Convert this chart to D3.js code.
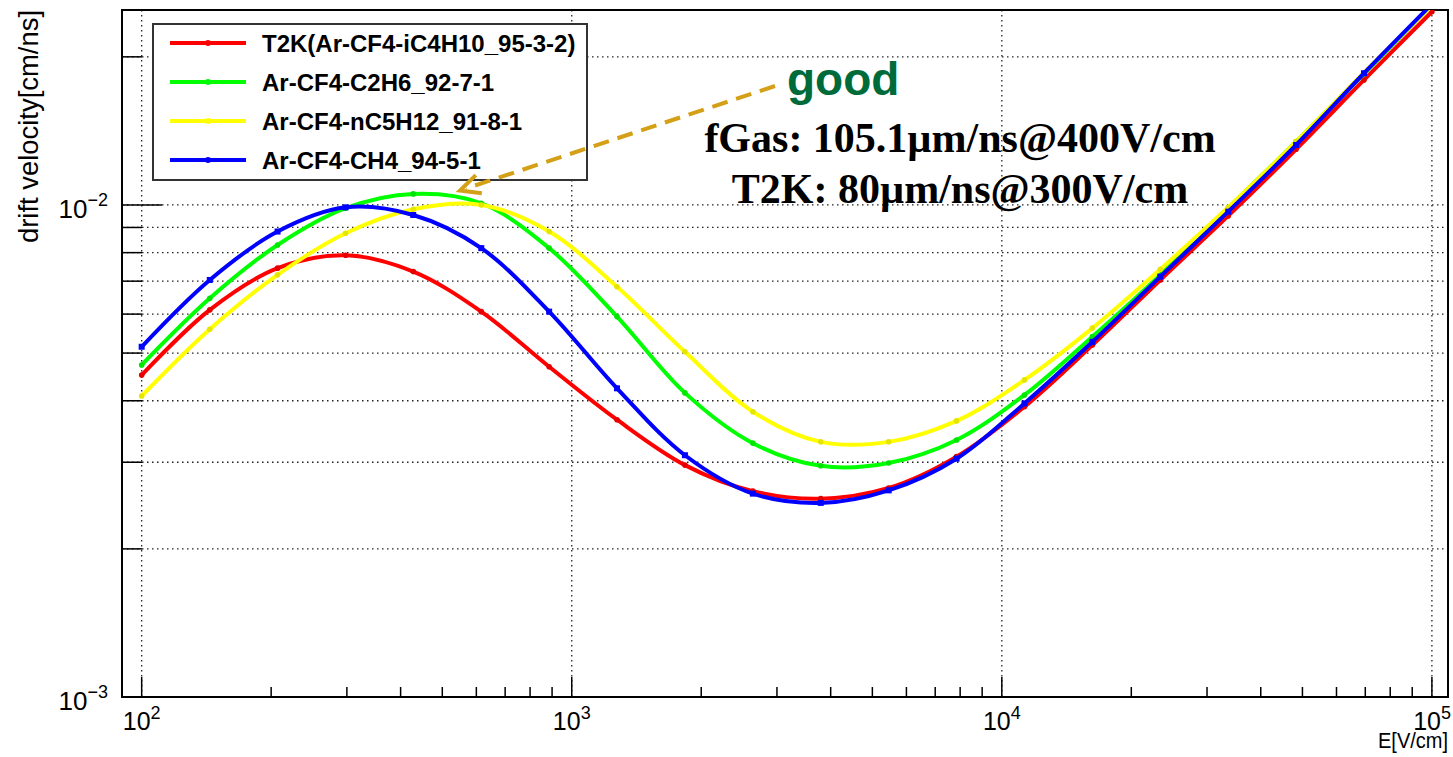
<!DOCTYPE html>
<html>
<head>
  <script src="https://cdnjs.cloudflare.com/ajax/libs/d3/7.8.5/d3.min.js"></script>
  <style>
    body { margin: 0; background: #fff; }
    .curve { fill: none; stroke-width: 4; stroke-linejoin: round; }
    .grid { stroke: #222; stroke-width: 1.3; stroke-dasharray: 1.5,3.5; }
    text { font-family: "Liberation Sans", Arial, sans-serif; }
  </style>
</head>
<body>
  <div id="graph"></div>
  <script>
    // electric field sample points [V/cm]
    const fieldValues = [100, 144, 207, 298, 428, 616, 886, 1274, 1833, 2637, 3793, 5456,
                         7848, 11288, 16238, 23357, 33598, 48329, 69519, 100000];

    // drift velocity [cm/ns]
    const t2kVelocity = [0.00451, 0.00612, 0.00744, 0.00790, 0.00732, 0.00607, 0.00469, 0.00366,
                         0.00296, 0.00262, 0.00253, 0.00266, 0.00308, 0.00389, 0.00519, 0.00704,
                         0.00950, 0.01298, 0.01795, 0.0247];
    const c2h6Velocity = [0.00473, 0.00646, 0.00829, 0.00985, 0.01053, 0.01008, 0.00817, 0.00593,
                          0.00415, 0.00328, 0.00295, 0.00299, 0.00333, 0.00411, 0.00540, 0.00721,
                          0.00985, 0.01345, 0.01846, 0.0255];
    const nc5h12Velocity = [0.00409, 0.00559, 0.00721, 0.00876, 0.00980, 0.01000, 0.00883, 0.00682,
                            0.00503, 0.00380, 0.00330, 0.00330, 0.00364, 0.00441, 0.00562, 0.00740,
                            0.00989, 0.01345, 0.01857, 0.0254];
    const ch4Velocity = [0.00515, 0.00704, 0.00883, 0.00989, 0.00954, 0.00817, 0.00607, 0.00424,
                         0.00310, 0.00259, 0.00248, 0.00263, 0.00305, 0.00395, 0.00527, 0.00715,
                         0.00969, 0.01324, 0.01852, 0.0256];

    const seriesNames = ["T2K(Ar-CF4-iC4H10_95-3-2)", "Ar-CF4-C2H6_92-7-1",
                         "Ar-CF4-nC5H12_91-8-1", "Ar-CF4-CH4_94-5-1"];
    const seriesColors = ["#ff0000", "#00ff00", "#ffff00", "#0000ff"];
    const seriesValues = [t2kVelocity, c2h6Velocity, nc5h12Velocity, ch4Velocity];

    const xDecades = [2, 3, 4, 5];
    const yDecades = [-3, -2];

    const noteGood = "good";
    const noteLines = ["fGas: 105.1\u00b5m/ns@400V/cm", "T2K: 80\u00b5m/ns@300V/cm"];

    // frame in page pixels
    const frame = {left: 122, right: 1448, top: 10, bottom: 697};

    const svg = d3.select("#graph")
      .append("svg")
        .attr("width", 1453)
        .attr("height", 757);

    const x = d3.scaleLog()
      .domain([90, 109000])
      .range([frame.left, frame.right]);

    const y = d3.scaleLog()
      .domain([0.001, 0.0249])
      .range([frame.bottom, frame.top]);

    svg.append("clipPath").attr("id", "clip")
      .append("rect")
        .attr("x", frame.left).attr("y", frame.top)
        .attr("width", frame.right - frame.left)
        .attr("height", frame.bottom - frame.top);

    // grid
    const yTicks = y.ticks().filter(d => d > 0.0011);
    svg.append("g").selectAll("line")
      .data(yTicks)
      .join("line")
        .attr("class", "grid")
        .attr("x1", frame.left).attr("x2", frame.right)
        .attr("y1", d => y(d)).attr("y2", d => y(d));

    svg.append("g").selectAll("line")
      .data(xDecades)
      .join("line")
        .attr("class", "grid")
        .attr("x1", d => x(10 ** d)).attr("x2", d => x(10 ** d))
        .attr("y1", frame.top).attr("y2", frame.bottom);

    // ticks
    const isDecade = v => Math.abs(Math.log10(v) - Math.round(Math.log10(v))) < 1e-6;

    svg.append("g").selectAll("line")
      .data(y.ticks())
      .join("line")
        .attr("stroke", "#000")
        .attr("stroke-width", 1.5)
        .attr("x1", frame.left)
        .attr("x2", d => frame.left + (isDecade(d) ? 40 : 20))
        .attr("y1", d => y(d)).attr("y2", d => y(d));

    svg.append("g").selectAll("line")
      .data(x.ticks().filter(d => d > 95 && d < 105000))
      .join("line")
        .attr("stroke", "#000")
        .attr("stroke-width", 1.5)
        .attr("x1", d => x(d)).attr("x2", d => x(d))
        .attr("y1", frame.bottom)
        .attr("y2", d => frame.bottom - (isDecade(d) ? 20 : 10));

    // frame
    svg.append("rect")
      .attr("x", frame.left).attr("y", frame.top)
      .attr("width", frame.right - frame.left)
      .attr("height", frame.bottom - frame.top)
      .attr("fill", "none")
      .attr("stroke", "#000")
      .attr("stroke-width", 2);

    // tick labels (last one kept inside the page)
    const lastDecade = xDecades[xDecades.length - 1];
    const xLab = svg.append("g").selectAll("text")
      .data(xDecades)
      .join("text")
        .attr("x", d => d === lastDecade ? 1451 : x(10 ** d))
        .attr("y", 730)
        .attr("text-anchor", d => d === lastDecade ? "end" : "middle")
        .style("font-size", "25px");
    xLab.append("tspan").text("10");
    xLab.append("tspan").attr("dy", -11).style("font-size", "18px").text(d => d);

    const yLab = svg.append("g").selectAll("text")
      .data(yDecades)
      .join("text")
        .attr("x", 108)
        .attr("y", d => y(10 ** d) + 13)
        .attr("text-anchor", "end")
        .style("font-size", "26px");
    yLab.append("tspan").text("10");
    yLab.append("tspan").attr("dy", -12).style("font-size", "18px").text(d => "\u2212" + Math.abs(d));

    // axis titles
    svg.append("text")
      .attr("transform", "translate(37.5,10) rotate(-90)")
      .attr("text-anchor", "end")
      .attr("textLength", 233)
      .attr("lengthAdjust", "spacingAndGlyphs")
      .style("font-size", "27px")
      .text("drift velocity[cm/ns]");

    svg.append("text")
      .attr("x", 1448)
      .attr("y", 748)
      .attr("text-anchor", "end")
      .attr("textLength", 70)
      .attr("lengthAdjust", "spacingAndGlyphs")
      .style("font-size", "22px")
      .text("E[V/cm]");

    // curves
    const line = d3.line()
      .x(d => x(d[0]))
      .y(d => y(d[1]))
      .curve(d3.curveCatmullRom);

    const plot = svg.append("g").attr("clip-path", "url(#clip)");

    seriesValues.forEach((vals, i) => {
      const pts = fieldValues.map((e, k) => [e, vals[k]]);
      plot.append("path")
        .datum(pts)
        .attr("class", "curve")
        .attr("stroke", seriesColors[i])
        .attr("d", line);
      if (i === 3) {
        plot.append("g").selectAll("rect")
          .data(pts)
          .join("rect")
            .attr("x", d => x(d[0]) - 3).attr("y", d => y(d[1]) - 3)
            .attr("width", 6).attr("height", 6)
            .attr("fill", seriesColors[i]);
      } else {
        plot.append("g").selectAll("circle")
          .data(pts)
          .join("circle")
            .attr("cx", d => x(d[0])).attr("cy", d => y(d[1]))
            .attr("r", 2.8)
            .attr("fill", d3.color(seriesColors[i]).darker(0.3));
      }
    });

    // legend
    const legend = svg.append("g");
    legend.append("rect")
      .attr("x", 153).attr("y", 24)
      .attr("width", 434).attr("height", 156)
      .attr("fill", "#fff")
      .attr("stroke", "#333")
      .attr("stroke-width", 2);

    const entry = legend.selectAll("g")
      .data(seriesNames)
      .join("g")
        .attr("transform", (d, i) => `translate(0,${43 + i * 39})`);
    entry.append("line")
      .attr("x1", 170).attr("x2", 246)
      .attr("stroke", (d, i) => seriesColors[i])
      .attr("stroke-width", 4);
    entry.append("circle")
      .attr("cx", 208).attr("r", 3)
      .attr("fill", (d, i) => seriesColors[i]);
    entry.append("text")
      .attr("x", 262).attr("y", 8.5)
      .style("font-size", "24px")
      .style("font-weight", "bold")
      .text(d => d);

    // annotation
    const arrowColor = "#d4a017";
    const tip = [460, 190.5], tail = [775, 86];
    svg.append("line")
      .attr("x1", tail[0]).attr("y1", tail[1])
      .attr("x2", tip[0] + 6).attr("y2", tip[1] - 2)
      .attr("stroke", arrowColor)
      .attr("stroke-width", 4)
      .attr("stroke-dasharray", "16,9");
    const ang = Math.atan2(tail[1] - tip[1], tail[0] - tip[0]);
    const arm = a => [tip[0] + 22 * Math.cos(ang + a), tip[1] + 22 * Math.sin(ang + a)];
    svg.append("path")
      .attr("d", d3.line()([arm(-0.45), tip, arm(0.45)]))
      .attr("fill", "none")
      .attr("stroke", arrowColor)
      .attr("stroke-width", 4);

    svg.append("text")
      .attr("x", 787).attr("y", 95)
      .attr("fill", "#006b3a")
      .style("font-size", "46px")
      .style("font-weight", "bold")
      .text(noteGood);

    svg.append("g").selectAll("text")
      .data(noteLines)
      .join("text")
        .attr("x", 960)
        .attr("y", (d, i) => 152 + i * 51)
        .attr("text-anchor", "middle")
        .style("font-family", "'Liberation Serif', 'Times New Roman', serif")
        .style("font-weight", "bold")
        .style("font-size", "42px")
        .text(d => d);
  </script>
</body>
</html>
